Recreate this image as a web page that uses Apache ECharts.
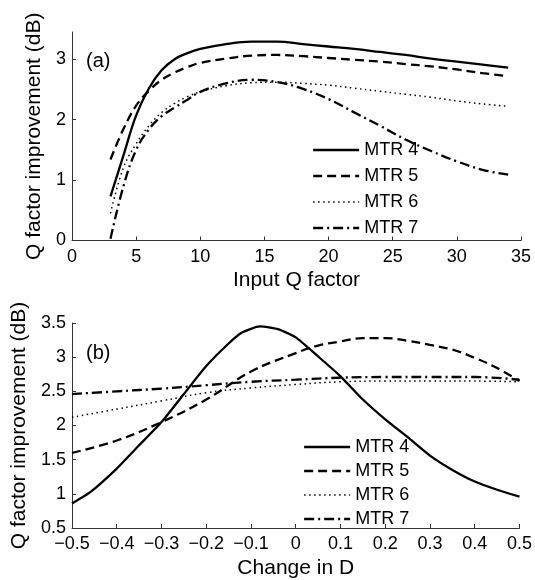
<!DOCTYPE html>
<html>
<head>
<meta charset="utf-8">
<script src="https://cdn.jsdelivr.net/npm/echarts@6/dist/echarts.min.js"></script>
<style>
  html, body { margin: 0; padding: 0; background: #fff; }
  #chart-container { width: 535px; height: 580px; }
</style>
</head>
<body>
<div id="chart-container"></div>
<script>
var dom = document.getElementById("chart-container");
var myChart = echarts.init(dom, null, { renderer: "canvas" });

var names = ["MTR 4", "MTR 5", "MTR 6", "MTR 7"];

// (a) improvement vs input Q factor
var qInput = [3, 4, 5, 6, 7, 8, 9, 10, 12, 14, 16, 18, 20, 22, 24, 26, 28, 30, 32, 34];
var mtr4a = [0.73, 1.40, 2.07, 2.52, 2.82, 3.0, 3.1, 3.17, 3.25, 3.29, 3.29, 3.25, 3.21, 3.17, 3.12, 3.07, 3.01, 2.96, 2.91, 2.86];
var mtr5a = [1.34, 1.84, 2.23, 2.48, 2.66, 2.78, 2.87, 2.94, 3.01, 3.06, 3.07, 3.05, 3.02, 2.99, 2.96, 2.92, 2.88, 2.83, 2.77, 2.72];
var mtr6a = [0.45, 1.2, 1.6, 1.9, 2.12, 2.27, 2.38, 2.46, 2.56, 2.61, 2.62, 2.6, 2.57, 2.52, 2.47, 2.42, 2.37, 2.31, 2.26, 2.22];
var mtr7a = [0.03, 0.89, 1.5, 1.84, 2.06, 2.2, 2.33, 2.46, 2.6, 2.66, 2.62, 2.51, 2.34, 2.12, 1.9, 1.67, 1.48, 1.31, 1.17, 1.09];

// (b) improvement vs change in D
var dFine = [-0.5, -0.46, -0.4, -0.35, -0.3, -0.25, -0.2, -0.15, -0.12, -0.08, -0.04, 0, 0.05, 0.1, 0.15, 0.2, 0.25, 0.3, 0.35, 0.4, 0.45, 0.5];
var mtr4b = [0.86, 1.02, 1.37, 1.71, 2.05, 2.46, 2.87, 3.2, 3.36, 3.45, 3.41, 3.29, 3.01, 2.72, 2.38, 2.09, 1.83, 1.56, 1.35, 1.18, 1.06, 0.96];
var dMid = [-0.5, -0.4, -0.3, -0.2, -0.1, 0, 0.05, 0.1, 0.15, 0.2, 0.25, 0.3, 0.35, 0.4, 0.45, 0.5];
var mtr5b = [1.6, 1.78, 2.05, 2.38, 2.79, 3.06, 3.17, 3.23, 3.28, 3.28, 3.24, 3.18, 3.11, 2.99, 2.84, 2.65];
var dCoarse = [-0.5, -0.4, -0.3, -0.2, -0.1, 0, 0.1, 0.2, 0.3, 0.4, 0.5];
var mtr6b = [2.12, 2.24, 2.36, 2.48, 2.55, 2.6, 2.64, 2.65, 2.65, 2.65, 2.64];
var mtr7b = [2.46, 2.5, 2.54, 2.59, 2.64, 2.67, 2.7, 2.71, 2.71, 2.71, 2.67];

var font = "Liberation Sans";
var lineStyles = [
  { width: 2.3, type: "solid" },
  { width: 2.3, type: [9, 5] },
  { width: 1.5, type: [1.5, 3.5] },
  { width: 2.3, type: [10, 4, 2, 4] },
];

function zip(xs, ys) {
  return xs.map(function (x, i) { return [x, ys[i]]; });
}

function makeSeries(idx, xs, ys, axis, smooth) {
  return {
    name: names[idx],
    type: "line",
    xAxisIndex: axis,
    yAxisIndex: axis,
    data: zip(xs, ys),
    symbol: "none",
    smooth: smooth,
    lineStyle: Object.assign({ color: "#000" }, lineStyles[idx]),
    itemStyle: { color: "#000" },
  };
}

var axisCommon = {
  axisLine: { show: true, onZero: false, lineStyle: { color: "#333", width: 1 } },
  axisTick: { show: true, inside: true, length: 4, lineStyle: { color: "#333" } },
  splitLine: { show: false },
  nameLocation: "middle",
  nameTextStyle: { fontFamily: font, fontSize: 21, color: "#000" },
};

function minus(v) {
  var s = String(Number(v.toFixed(2)));
  return s.replace("-", "\u2212");
}

function legendAt(left, top, gap) {
  return {
    data: names.map(function (n, i) {
      return { name: n, lineStyle: Object.assign({ color: "#000" }, lineStyles[i]) };
    }),
    orient: "vertical", left: left, top: top,
    itemWidth: 46, itemHeight: 14, itemGap: gap,
    itemStyle: { opacity: 0 },
    textStyle: { fontFamily: font, fontSize: 18, color: "#000" },
  };
}

var option = {
  animation: false,
  grid: [
    { left: 72, right: 14, top: 32, height: 208.5 },
    { left: 72, right: 14, top: 323, height: 208 },
  ],
  xAxis: [
    Object.assign({}, axisCommon, {
      type: "value", gridIndex: 0, min: 0, max: 35, interval: 5,
      name: "Input Q factor", nameGap: 29,
      axisLabel: { fontFamily: font, fontSize: 18, color: "#000", margin: 8 },
    }),
    Object.assign({}, axisCommon, {
      type: "value", gridIndex: 1, min: -0.5, max: 0.5, interval: 0.1,
      name: "Change in D", nameGap: 30,
      axisLabel: { fontFamily: font, fontSize: 18, color: "#000", margin: 7, formatter: minus },
    }),
  ],
  yAxis: [
    Object.assign({}, axisCommon, {
      type: "value", gridIndex: 0, min: 0, max: 3.45, interval: 1,
      name: "Q factor improvement (dB)", nameGap: 20,
      axisLabel: {
        fontFamily: font, fontSize: 18, color: "#000", margin: 6, showMaxLabel: false,
        formatter: function (v) { return Number.isInteger(v) ? String(v) : ""; },
      },
    }),
    Object.assign({}, axisCommon, {
      type: "value", gridIndex: 1, min: 0.5, max: 3.5, interval: 0.5,
      name: "Q factor improvement (dB)", nameGap: 28,
      axisLabel: { fontFamily: font, fontSize: 18, color: "#000", margin: 6 },
    }),
  ],
  legend: [legendAt(307, 136, 8), legendAt(298, 433, 6)],
  graphic: [
    { type: "text", left: 86, top: 51, style: { text: "(a)", font: "20px " + font, fill: "#000" } },
    { type: "text", left: 86, top: 343, style: { text: "(b)", font: "20px " + font, fill: "#000" } },
  ],
  series: [
    makeSeries(0, qInput, mtr4a, 0, 0.4),
    makeSeries(1, qInput, mtr5a, 0, 0.4),
    makeSeries(2, qInput, mtr6a, 0, 0.4),
    makeSeries(3, qInput, mtr7a, 0, 0.4),
    makeSeries(0, dFine, mtr4b, 1, 0.2),
    makeSeries(1, dMid, mtr5b, 1, 0.4),
    makeSeries(2, dCoarse, mtr6b, 1, 0.4),
    makeSeries(3, dCoarse, mtr7b, 1, 0.4),
  ],
};

myChart.setOption(option);
</script>
</body>
</html>
